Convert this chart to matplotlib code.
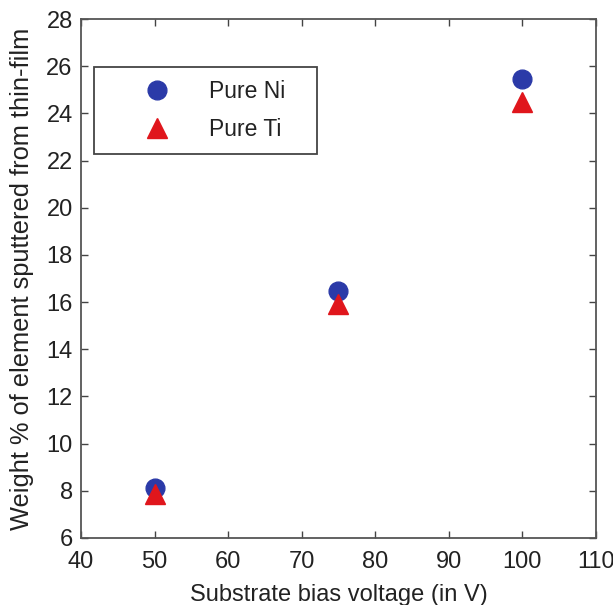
import matplotlib
matplotlib.use("Agg")
import matplotlib.pyplot as plt
from matplotlib.patches import Rectangle

plt.rcParams['font.family'] = ['Liberation Sans', 'DejaVu Sans']

# Substrate bias voltage (V) and sputtered weight percentages
bias_voltage = [50, 75, 100]
pure_ni = [8.1, 16.45, 25.45]
pure_ti = [7.85, 15.9, 24.5]

x_ticks = [40, 50, 60, 70, 80, 90, 100, 110]
y_ticks = [6, 8, 10, 12, 14, 16, 18, 20, 22, 24, 26, 28]

W, H = 613, 605
fig = plt.figure(figsize=(W / 100, H / 100), dpi=100)
ax_l, ax_r, ax_t, ax_b = 81, 596, 19, 538
ax = fig.add_axes([ax_l / W, 1 - ax_b / H, (ax_r - ax_l) / W, (ax_b - ax_t) / H])

ax.plot(bias_voltage, pure_ni, linestyle='none', marker='o', markersize=13.5,
        color='#2b3aa8', markeredgecolor='#2b3aa8', label='Pure Ni')
ax.plot(bias_voltage, pure_ti, linestyle='none', marker='^', markersize=15,
        color='#e0161c', markeredgecolor='#e0161c', label='Pure Ti')

ax.set_xlim(40, 110)
ax.set_ylim(6, 28)
ax.set_xticks(x_ticks)
ax.set_yticks(y_ticks)
ax.tick_params(direction='in', top=True, right=True, length=5, width=1,
               color='#444444', labelsize=17, labelcolor='#222222')
ax.tick_params(axis='x', pad=9)
ax.tick_params(axis='y', pad=6)
for s in ax.spines.values():
    s.set_color('#555555')
    s.set_linewidth(1.3)

ax.set_xlabel('Substrate bias voltage (in V)', fontsize=17, color='#222222', labelpad=8)
ax.set_ylabel('Weight % of element sputtered from thin-film', fontsize=18.3,
              color='#222222', labelpad=9)

# Legend entries (frameless), with a boxed outline drawn around them
leg_box = (94, 66.7, 317, 154)  # left, top, right, bottom in pixels
to_fig = lambda px, py: (px / W, 1 - py / H)
leg = fig.legend(handles=ax.get_lines(), loc='center left',
                 bbox_to_anchor=to_fig(105.5, 110.4),
                 fontsize=16.5, frameon=False, handletextpad=0.0,
                 borderpad=0, labelspacing=0.63, handlelength=4.5, borderaxespad=0)
for t in leg.get_texts():
    t.set_color('#222222')
bx0, by1 = to_fig(leg_box[0], leg_box[1])
bx1, by0 = to_fig(leg_box[2], leg_box[3])
fig.patches.append(Rectangle((bx0, by0), bx1 - bx0, by1 - by0, transform=fig.transFigure,
                             facecolor='white', edgecolor='#444444', linewidth=1.3, zorder=3))
leg.set_zorder(4)

fig.savefig('out.png', dpi=100)
